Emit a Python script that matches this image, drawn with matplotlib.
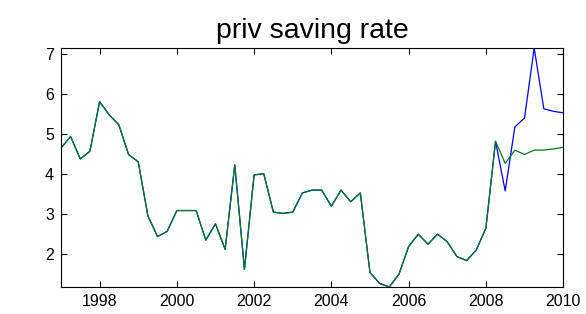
import numpy as np
import matplotlib
matplotlib.use("Agg")
import matplotlib.pyplot as plt

# quarterly observations, starting 1997Q1
start_year = 1997.0
common = [4.64, 4.93, 4.37, 4.56, 5.80, 5.47, 5.22, 4.48,
          4.30, 2.95, 2.43, 2.56, 3.08, 3.08, 3.08, 2.34,
          2.75, 2.11, 4.22, 1.61, 3.97, 4.00, 3.04, 3.01,
          3.04, 3.52, 3.59, 3.59, 3.19, 3.59, 3.30, 3.52,
          1.53, 1.26, 1.17, 1.49, 2.18, 2.49, 2.24, 2.49,
          2.30, 1.93, 1.83, 2.09, 2.64, 4.81]
blue_tail = [3.57, 5.17, 5.39, 7.14, 5.62, 5.56, 5.52]
green_tail = [4.26, 4.59, 4.48, 4.59, 4.59, 4.62, 4.66]

blue = np.array(common + blue_tail)
green = np.array(common + green_tail)
t = start_year + np.arange(len(blue)) / 4.0

xticks = [1998, 2000, 2002, 2004, 2006, 2008, 2010]
yticks = [2, 3, 4, 5, 6, 7]

plt.rcParams['font.family'] = ['Liberation Sans', 'DejaVu Sans']

fig = plt.figure(figsize=(5.86, 3.14), dpi=100)
ax = fig.add_axes([0.104, 0.086, 0.857, 0.761])

ax.plot(t, blue, color='#0000ff', lw=0.9)
ax.plot(t, green, color='#007a1f', lw=0.9)

ax.set_xlim(1997, 2010)
ax.set_ylim(1.17, 7.14)
ax.set_xticks(xticks)
ax.set_yticks(yticks)
ax.tick_params(direction='in', top=True, right=True, length=4,
               labelsize=11.5, pad=5, width=0.8)
for s in ax.spines.values():
    s.set_linewidth(0.8)

ax.set_title('priv saving rate', fontsize=20.5, pad=7)

fig.savefig('out.png', dpi=100)
